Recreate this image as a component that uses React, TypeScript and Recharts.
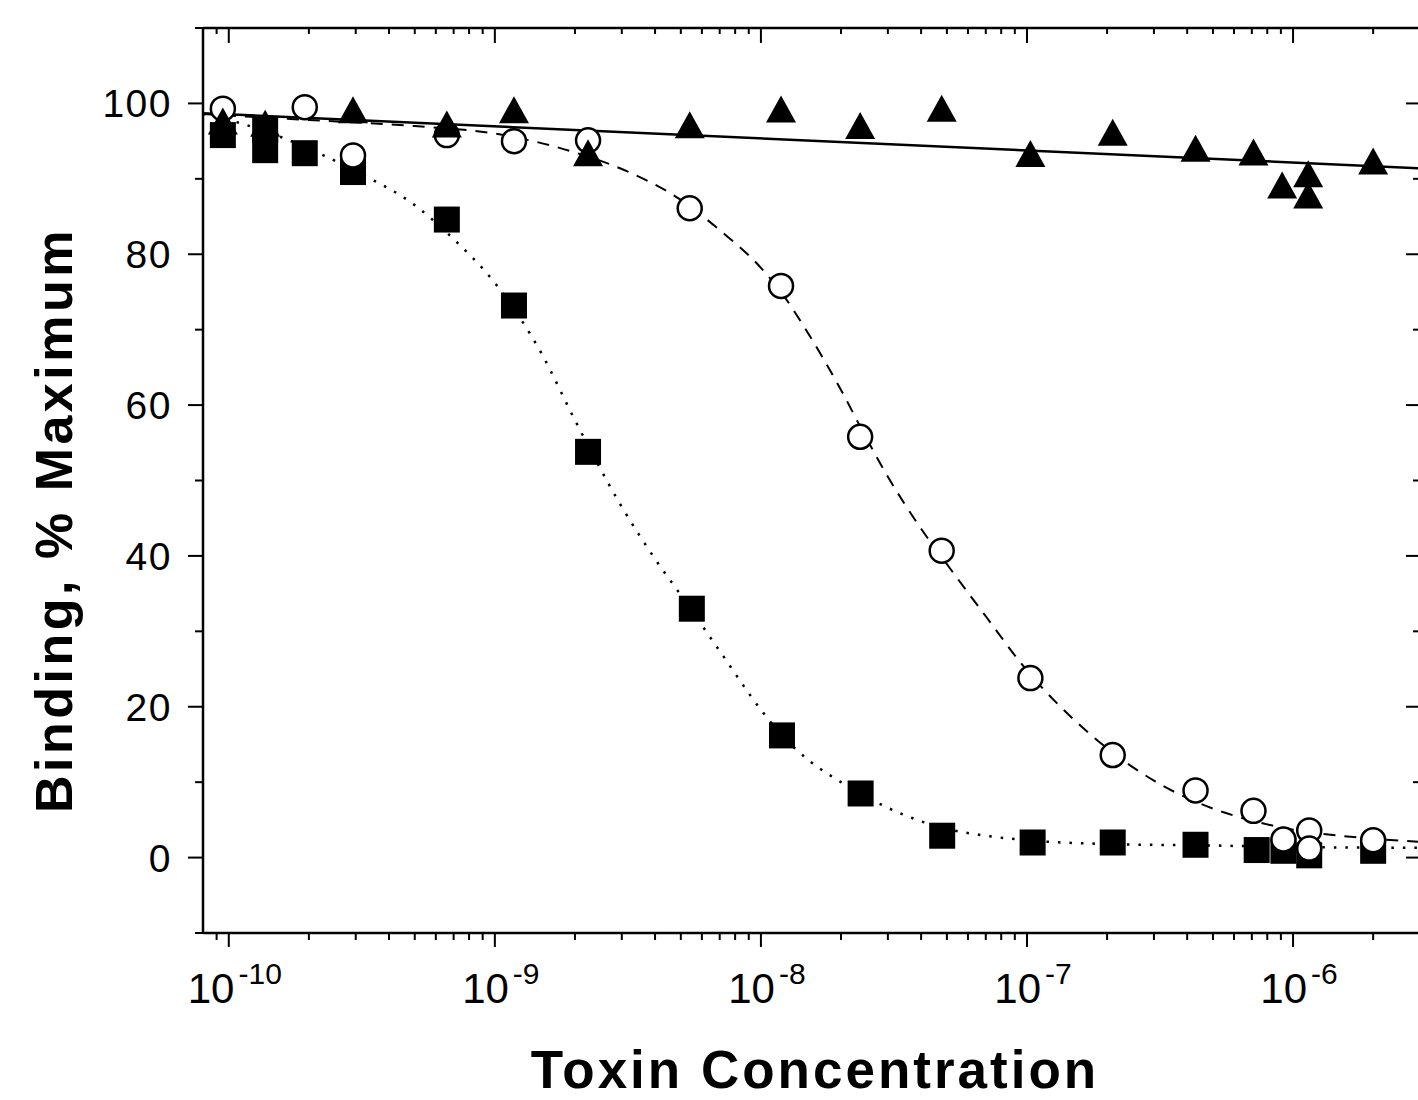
import React from 'react';
import { ComposedChart, Line, Scatter, XAxis, YAxis } from 'recharts';

// measured points (molar concentration, % of maximum binding)
const squareConc = [9.5e-11, 1.37e-10, 1.37e-10, 1.93e-10, 2.93e-10, 6.6e-10, 1.18e-9, 2.24e-9, 5.5e-9, 1.2e-8, 2.37e-8, 4.8e-8, 1.05e-7, 2.1e-7, 4.3e-7, 7.3e-7, 9.2e-7, 1.15e-6, 2.0e-6];
const squareBinding = [95.8, 96.5, 93.8, 93.4, 90.9, 84.6, 73.2, 53.8, 33.0, 16.2, 8.5, 2.9, 2.0, 2.0, 1.7, 1.0, 0.9, 0.3, 0.9];

const circleConc = [9.5e-11, 1.93e-10, 2.93e-10, 6.6e-10, 1.18e-9, 2.24e-9, 5.4e-9, 1.19e-8, 2.36e-8, 4.78e-8, 1.03e-7, 2.1e-7, 4.3e-7, 7.1e-7, 9.2e-7, 1.15e-6, 1.15e-6, 2.0e-6];
const circleBinding = [99.3, 99.5, 93.1, 95.8, 95.0, 95.1, 86.1, 75.8, 55.8, 40.7, 23.8, 13.6, 8.9, 6.2, 2.4, 3.6, 1.2, 2.3];

const triangleConc = [9.5e-11, 1.37e-10, 2.93e-10, 6.6e-10, 1.18e-9, 2.24e-9, 5.4e-9, 1.19e-8, 2.36e-8, 4.78e-8, 1.03e-7, 2.1e-7, 4.3e-7, 7.1e-7, 9.1e-7, 1.14e-6, 1.14e-6, 2.0e-6];
const triangleBinding = [97.6, 97.3, 99.1, 97.2, 99.1, 93.4, 97.1, 99.2, 97.0, 99.3, 93.3, 96.1, 94.0, 93.5, 89.1, 90.6, 87.8, 92.3];

// fitted curves
const fitFlatConc = [8e-11, 3e-6];
const fitFlatBinding = [98.7, 91.4];

const fitCircleConc = [8e-11, 1e-10, 2e-10, 5e-10, 1e-9, 2e-9, 3e-9, 5e-9, 7e-9, 1e-8, 1.2e-8, 1.5e-8, 2e-8, 2.5e-8, 3e-8, 4e-8, 5e-8, 7e-8, 1e-7, 1.5e-7, 2e-7, 3e-7, 5e-7, 7e-7, 1e-6, 1.5e-6, 2e-6, 3e-6];
const fitCircleBinding = [98.6, 98.4, 97.8, 97.0, 96.0, 93.5, 91.3, 87.2, 83.2, 78.2, 74.8, 69.6, 62.0, 55.5, 50.5, 43.6, 38.9, 32.0, 24.8, 18.3, 14.5, 10.2, 6.5, 4.9, 3.7, 2.9, 2.5, 2.1];

const fitSquareConc = [8e-11, 1e-10, 1.5e-10, 2e-10, 3e-10, 5e-10, 7e-10, 1e-9, 1.5e-9, 2e-9, 3e-9, 4e-9, 5e-9, 7e-9, 1e-8, 1.2e-8, 1.5e-8, 2e-8, 3e-8, 5e-8, 7e-8, 1e-7, 2e-7, 5e-7, 1e-6, 3e-6];
const fitSquareBinding = [98.6, 97.8, 95.8, 94.0, 91.0, 86.5, 82.0, 76.2, 66.8, 58.0, 46.5, 39.6, 34.8, 27.4, 19.6, 16.2, 13.0, 10.0, 6.6, 3.8, 2.9, 2.3, 1.8, 1.6, 1.4, 1.3];

const xDomain = [8e-11, 3e-6];
const yDomain = [-10, 110];
const decades = [-11, -10, -9, -8, -7, -6];
const xTicks = decades
  .flatMap((d) => [1, 2, 3, 4, 5, 6, 7, 8, 9].map((m) => Number((m * Math.pow(10, d)).toPrecision(3))))
  .filter((v) => v >= 9e-11 && v <= 3e-6);
const yTicks = [-10, 0, 10, 20, 30, 40, 50, 60, 70, 80, 90, 100, 110];
const yLabels = [0, 20, 40, 60, 80, 100];

const pts = (xs: number[], ys: number[]) => xs.map((x, i) => ({ x, y: ys[i] }));

const FONT = '"Liberation Sans", Arial, Helvetica, sans-serif';

const isMajor = (v: number) => {
  const lg = Math.log10(v);
  return Math.abs(lg - Math.round(lg)) < 1e-6;
};

const BottomTick = (props: any) => {
  const { x, y, payload } = props;
  const v = payload.value;
  const major = isMajor(v);
  return (
    <g>
      <line x1={x} x2={x} y1={y} y2={y + (major ? 14 : 7)} stroke="#000" strokeWidth={2} />
      {major && (
        <text x={x + 6} y={y + 70} textAnchor="middle" fontFamily={FONT} fontSize={42} fill="#000">
          10<tspan dx={4} dy={-19} fontSize={30}>{Math.round(Math.log10(v))}</tspan>
        </text>
      )}
    </g>
  );
};

const TopTick = (props: any) => {
  const { x, y, payload } = props;
  const major = isMajor(payload.value);
  return <line x1={x} x2={x} y1={y} y2={y + (major ? 15 : 6)} stroke="#000" strokeWidth={2} />;
};

const LeftTick = (props: any) => {
  const { x, y, payload } = props;
  const v = payload.value;
  const major = yLabels.includes(v);
  return (
    <g>
      <line x1={x} x2={x - (major ? 15 : 8)} y1={y} y2={y} stroke="#000" strokeWidth={2} />
      {major && (
        <text x={x - 31} y={y + 14} textAnchor="end" fontFamily={FONT} fontSize={39} letterSpacing={1.5} fill="#000">
          {v}
        </text>
      )}
    </g>
  );
};

const RightTick = (props: any) => {
  const { x, y, payload } = props;
  const major = yLabels.includes(payload.value);
  return <line x1={x} x2={x - (major ? 14 : 7)} y1={y} y2={y} stroke="#000" strokeWidth={2} />;
};

const SquareDot = (p: any) => <rect x={p.cx - 13} y={p.cy - 13} width={26} height={26} fill="#000" />;
const CircleDot = (p: any) => <circle cx={p.cx} cy={p.cy} r={12} fill="#fff" stroke="#000" strokeWidth={2.5} />;
const TriangleDot = (p: any) => (
  <polygon points={`${p.cx},${p.cy - 14} ${p.cx - 15},${p.cy + 13} ${p.cx + 15},${p.cy + 13}`} fill="#000" />
);

const axisLine = { stroke: '#000', strokeWidth: 2.5 };

export default function App() {
  return (
    <div style={{ position: 'absolute', left: 0, top: 0, width: 1418, height: 1100, overflow: 'hidden', background: '#fff' }}>
      <div style={{ position: 'relative', width: 1450, height: 1100 }}>
        <ComposedChart width={1450} height={1100} margin={{ top: 0, right: 0, bottom: 0, left: 0 }}>
          <XAxis
            xAxisId="b"
            dataKey="x"
            type="number"
            scale="log"
            domain={xDomain}
            allowDataOverflow
            ticks={xTicks}
            interval={0}
            height={167}
            tickSize={0}
            tickMargin={0}
            tickLine={false}
            axisLine={axisLine}
            tick={<BottomTick />}
          />
          <XAxis
            xAxisId="t"
            orientation="top"
            dataKey="x"
            type="number"
            scale="log"
            domain={xDomain}
            allowDataOverflow
            ticks={xTicks}
            interval={0}
            height={28}
            tickSize={0}
            tickMargin={0}
            tickLine={false}
            axisLine={axisLine}
            tick={<TopTick />}
          />
          <YAxis
            yAxisId="l"
            dataKey="y"
            type="number"
            domain={yDomain}
            allowDataOverflow
            ticks={yTicks}
            interval={0}
            width={203}
            tickSize={0}
            tickMargin={0}
            tickLine={false}
            axisLine={axisLine}
            tick={<LeftTick />}
          />
          <YAxis
            yAxisId="r"
            orientation="right"
            dataKey="y"
            type="number"
            domain={yDomain}
            allowDataOverflow
            ticks={yTicks}
            interval={0}
            width={30}
            tickSize={0}
            tickMargin={0}
            tickLine={false}
            axisLine={axisLine}
            tick={<RightTick />}
          />
          <Scatter xAxisId="b" yAxisId="l" data={pts(squareConc, squareBinding)} dataKey="y" shape={SquareDot} isAnimationActive={false} />
          <Scatter xAxisId="b" yAxisId="l" data={pts(circleConc, circleBinding)} dataKey="y" shape={CircleDot} isAnimationActive={false} />
          <Scatter xAxisId="b" yAxisId="l" data={pts(triangleConc, triangleBinding)} dataKey="y" shape={TriangleDot} isAnimationActive={false} />
          <Line xAxisId="b" yAxisId="l" data={pts(fitFlatConc, fitFlatBinding)} dataKey="y" type="linear" stroke="#000" strokeWidth={2.5} dot={false} activeDot={false} isAnimationActive={false} />
          <Line xAxisId="b" yAxisId="l" data={pts(fitCircleConc, fitCircleBinding)} dataKey="y" type="monotone" stroke="#000" strokeWidth={2} strokeDasharray="12 9" dot={false} activeDot={false} isAnimationActive={false} />
          <Line xAxisId="b" yAxisId="l" data={pts(fitSquareConc, fitSquareBinding)} dataKey="y" type="monotone" stroke="#000" strokeWidth={2.5} strokeDasharray="2.5 9" dot={false} activeDot={false} isAnimationActive={false} />
        </ComposedChart>
        <svg width={1450} height={1100} style={{ position: 'absolute', left: 0, top: 0, pointerEvents: 'none' }}>
          <text x={815} y={1088} textAnchor="middle" fontFamily={FONT} fontWeight="bold" fontSize={53} letterSpacing={3} fill="#000">
            Toxin Concentration
          </text>
          <text transform="rotate(-90)" x={-520} y={72} textAnchor="middle" fontFamily={FONT} fontWeight="bold" fontSize={52} letterSpacing={3.5} fill="#000">
            Binding, % Maximum
          </text>
        </svg>
      </div>
    </div>
  );
}
